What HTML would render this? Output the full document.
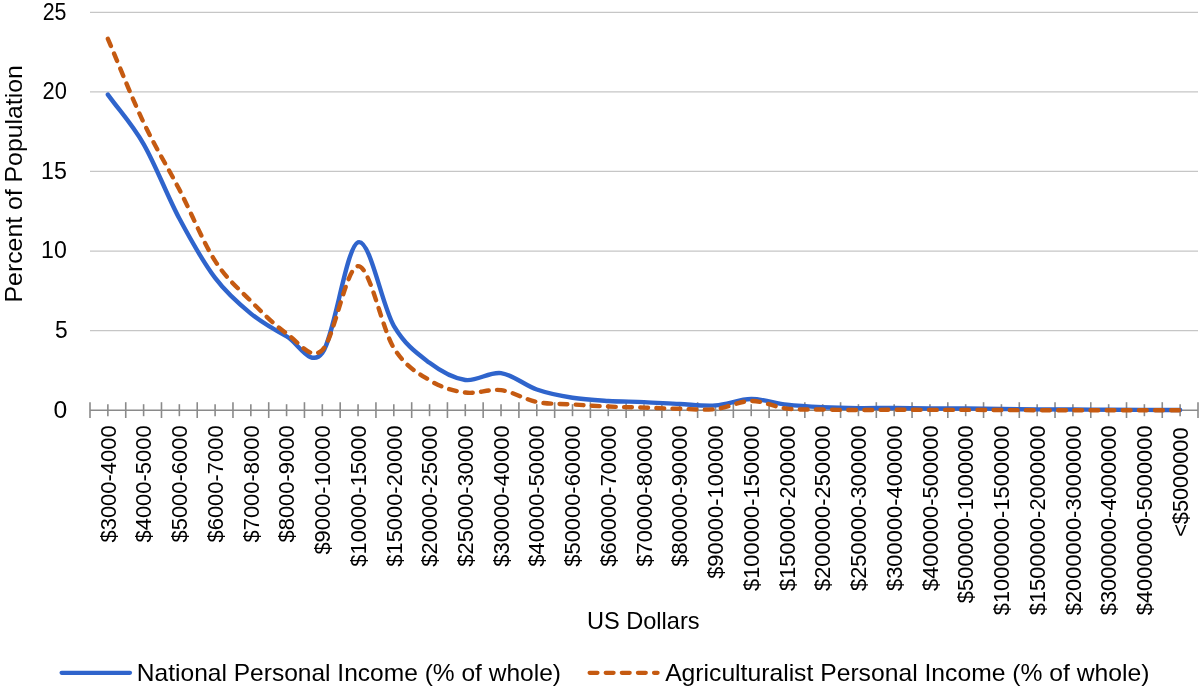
<!DOCTYPE html>
<html><head><meta charset="utf-8"><style>
html,body{margin:0;padding:0;background:#fff;width:1200px;height:689px;overflow:hidden;}
svg{display:block;font-family:"Liberation Sans",sans-serif;will-change:transform;}
</style></head><body>
<svg width="1200" height="689" viewBox="0 0 1200 689">
<rect width="1200" height="689" fill="#fff"/>
<line x1="90.0" y1="330.62" x2="1198.0" y2="330.62" stroke="#c6c6c6" stroke-width="1.3"/>
<line x1="90.0" y1="251.04" x2="1198.0" y2="251.04" stroke="#c6c6c6" stroke-width="1.3"/>
<line x1="90.0" y1="171.46" x2="1198.0" y2="171.46" stroke="#c6c6c6" stroke-width="1.3"/>
<line x1="90.0" y1="91.88" x2="1198.0" y2="91.88" stroke="#c6c6c6" stroke-width="1.3"/>
<line x1="90.0" y1="12.30" x2="1198.0" y2="12.30" stroke="#c6c6c6" stroke-width="1.3"/>
<text x="42.63" y="19.75" font-size="23.4" font-family="Liberation Sans, sans-serif" textLength="23.77" lengthAdjust="spacingAndGlyphs">25</text>
<text x="42.50" y="99.33" font-size="23.4" font-family="Liberation Sans, sans-serif" textLength="24.36" lengthAdjust="spacingAndGlyphs">20</text>
<text x="41.03" y="178.91" font-size="23.4" font-family="Liberation Sans, sans-serif" textLength="25.85" lengthAdjust="spacingAndGlyphs">15</text>
<text x="41.04" y="258.49" font-size="23.4" font-family="Liberation Sans, sans-serif" textLength="25.77" lengthAdjust="spacingAndGlyphs">10</text>
<text x="54.89" y="338.07" font-size="23.4" font-family="Liberation Sans, sans-serif" textLength="12.67" lengthAdjust="spacingAndGlyphs">5</text>
<text x="53.44" y="417.65" font-size="23.4" font-family="Liberation Sans, sans-serif" textLength="13.73" lengthAdjust="spacingAndGlyphs">0</text>
<line x1="90.0" y1="410.2" x2="1198.0" y2="410.2" stroke="#8a8a8a" stroke-width="1.6"/>
<line x1="90.00" y1="402.2" x2="90.00" y2="418" stroke="#8a8a8a" stroke-width="1.6"/>
<line x1="125.74" y1="402.2" x2="125.74" y2="418" stroke="#8a8a8a" stroke-width="1.6"/>
<line x1="161.48" y1="402.2" x2="161.48" y2="418" stroke="#8a8a8a" stroke-width="1.6"/>
<line x1="197.23" y1="402.2" x2="197.23" y2="418" stroke="#8a8a8a" stroke-width="1.6"/>
<line x1="232.97" y1="402.2" x2="232.97" y2="418" stroke="#8a8a8a" stroke-width="1.6"/>
<line x1="268.71" y1="402.2" x2="268.71" y2="418" stroke="#8a8a8a" stroke-width="1.6"/>
<line x1="304.45" y1="402.2" x2="304.45" y2="418" stroke="#8a8a8a" stroke-width="1.6"/>
<line x1="340.19" y1="402.2" x2="340.19" y2="418" stroke="#8a8a8a" stroke-width="1.6"/>
<line x1="375.94" y1="402.2" x2="375.94" y2="418" stroke="#8a8a8a" stroke-width="1.6"/>
<line x1="411.68" y1="402.2" x2="411.68" y2="418" stroke="#8a8a8a" stroke-width="1.6"/>
<line x1="447.42" y1="402.2" x2="447.42" y2="418" stroke="#8a8a8a" stroke-width="1.6"/>
<line x1="483.16" y1="402.2" x2="483.16" y2="418" stroke="#8a8a8a" stroke-width="1.6"/>
<line x1="518.90" y1="402.2" x2="518.90" y2="418" stroke="#8a8a8a" stroke-width="1.6"/>
<line x1="554.65" y1="402.2" x2="554.65" y2="418" stroke="#8a8a8a" stroke-width="1.6"/>
<line x1="590.39" y1="402.2" x2="590.39" y2="418" stroke="#8a8a8a" stroke-width="1.6"/>
<line x1="626.13" y1="402.2" x2="626.13" y2="418" stroke="#8a8a8a" stroke-width="1.6"/>
<line x1="661.87" y1="402.2" x2="661.87" y2="418" stroke="#8a8a8a" stroke-width="1.6"/>
<line x1="697.61" y1="402.2" x2="697.61" y2="418" stroke="#8a8a8a" stroke-width="1.6"/>
<line x1="733.35" y1="402.2" x2="733.35" y2="418" stroke="#8a8a8a" stroke-width="1.6"/>
<line x1="769.10" y1="402.2" x2="769.10" y2="418" stroke="#8a8a8a" stroke-width="1.6"/>
<line x1="804.84" y1="402.2" x2="804.84" y2="418" stroke="#8a8a8a" stroke-width="1.6"/>
<line x1="840.58" y1="402.2" x2="840.58" y2="418" stroke="#8a8a8a" stroke-width="1.6"/>
<line x1="876.32" y1="402.2" x2="876.32" y2="418" stroke="#8a8a8a" stroke-width="1.6"/>
<line x1="912.06" y1="402.2" x2="912.06" y2="418" stroke="#8a8a8a" stroke-width="1.6"/>
<line x1="947.81" y1="402.2" x2="947.81" y2="418" stroke="#8a8a8a" stroke-width="1.6"/>
<line x1="983.55" y1="402.2" x2="983.55" y2="418" stroke="#8a8a8a" stroke-width="1.6"/>
<line x1="1019.29" y1="402.2" x2="1019.29" y2="418" stroke="#8a8a8a" stroke-width="1.6"/>
<line x1="1055.03" y1="402.2" x2="1055.03" y2="418" stroke="#8a8a8a" stroke-width="1.6"/>
<line x1="1090.77" y1="402.2" x2="1090.77" y2="418" stroke="#8a8a8a" stroke-width="1.6"/>
<line x1="1126.52" y1="402.2" x2="1126.52" y2="418" stroke="#8a8a8a" stroke-width="1.6"/>
<line x1="1162.26" y1="402.2" x2="1162.26" y2="418" stroke="#8a8a8a" stroke-width="1.6"/>
<line x1="1198.00" y1="402.2" x2="1198.00" y2="418" stroke="#8a8a8a" stroke-width="1.6"/>
<line x1="107.87" y1="404.2" x2="107.87" y2="416.2" stroke="#8a8a8a" stroke-width="1.6"/>
<line x1="143.61" y1="404.2" x2="143.61" y2="416.2" stroke="#8a8a8a" stroke-width="1.6"/>
<line x1="179.35" y1="404.2" x2="179.35" y2="416.2" stroke="#8a8a8a" stroke-width="1.6"/>
<line x1="215.10" y1="404.2" x2="215.10" y2="416.2" stroke="#8a8a8a" stroke-width="1.6"/>
<line x1="250.84" y1="404.2" x2="250.84" y2="416.2" stroke="#8a8a8a" stroke-width="1.6"/>
<line x1="286.58" y1="404.2" x2="286.58" y2="416.2" stroke="#8a8a8a" stroke-width="1.6"/>
<line x1="322.32" y1="404.2" x2="322.32" y2="416.2" stroke="#8a8a8a" stroke-width="1.6"/>
<line x1="358.06" y1="404.2" x2="358.06" y2="416.2" stroke="#8a8a8a" stroke-width="1.6"/>
<line x1="393.81" y1="404.2" x2="393.81" y2="416.2" stroke="#8a8a8a" stroke-width="1.6"/>
<line x1="429.55" y1="404.2" x2="429.55" y2="416.2" stroke="#8a8a8a" stroke-width="1.6"/>
<line x1="465.29" y1="404.2" x2="465.29" y2="416.2" stroke="#8a8a8a" stroke-width="1.6"/>
<line x1="501.03" y1="404.2" x2="501.03" y2="416.2" stroke="#8a8a8a" stroke-width="1.6"/>
<line x1="536.77" y1="404.2" x2="536.77" y2="416.2" stroke="#8a8a8a" stroke-width="1.6"/>
<line x1="572.52" y1="404.2" x2="572.52" y2="416.2" stroke="#8a8a8a" stroke-width="1.6"/>
<line x1="608.26" y1="404.2" x2="608.26" y2="416.2" stroke="#8a8a8a" stroke-width="1.6"/>
<line x1="644.00" y1="404.2" x2="644.00" y2="416.2" stroke="#8a8a8a" stroke-width="1.6"/>
<line x1="679.74" y1="404.2" x2="679.74" y2="416.2" stroke="#8a8a8a" stroke-width="1.6"/>
<line x1="715.48" y1="404.2" x2="715.48" y2="416.2" stroke="#8a8a8a" stroke-width="1.6"/>
<line x1="751.23" y1="404.2" x2="751.23" y2="416.2" stroke="#8a8a8a" stroke-width="1.6"/>
<line x1="786.97" y1="404.2" x2="786.97" y2="416.2" stroke="#8a8a8a" stroke-width="1.6"/>
<line x1="822.71" y1="404.2" x2="822.71" y2="416.2" stroke="#8a8a8a" stroke-width="1.6"/>
<line x1="858.45" y1="404.2" x2="858.45" y2="416.2" stroke="#8a8a8a" stroke-width="1.6"/>
<line x1="894.19" y1="404.2" x2="894.19" y2="416.2" stroke="#8a8a8a" stroke-width="1.6"/>
<line x1="929.94" y1="404.2" x2="929.94" y2="416.2" stroke="#8a8a8a" stroke-width="1.6"/>
<line x1="965.68" y1="404.2" x2="965.68" y2="416.2" stroke="#8a8a8a" stroke-width="1.6"/>
<line x1="1001.42" y1="404.2" x2="1001.42" y2="416.2" stroke="#8a8a8a" stroke-width="1.6"/>
<line x1="1037.16" y1="404.2" x2="1037.16" y2="416.2" stroke="#8a8a8a" stroke-width="1.6"/>
<line x1="1072.90" y1="404.2" x2="1072.90" y2="416.2" stroke="#8a8a8a" stroke-width="1.6"/>
<line x1="1108.65" y1="404.2" x2="1108.65" y2="416.2" stroke="#8a8a8a" stroke-width="1.6"/>
<line x1="1144.39" y1="404.2" x2="1144.39" y2="416.2" stroke="#8a8a8a" stroke-width="1.6"/>
<line x1="1180.13" y1="404.2" x2="1180.13" y2="416.2" stroke="#8a8a8a" stroke-width="1.6"/>
<text transform="translate(115.58,542.25) rotate(-90)" x="-0.24" y="0" font-size="22.4" font-family="Liberation Sans, sans-serif" textLength="117.09" lengthAdjust="spacingAndGlyphs">&#36;3000-4000</text>
<text transform="translate(151.32,542.25) rotate(-90)" x="-0.24" y="0" font-size="22.4" font-family="Liberation Sans, sans-serif" textLength="117.09" lengthAdjust="spacingAndGlyphs">&#36;4000-5000</text>
<text transform="translate(187.06,542.25) rotate(-90)" x="-0.24" y="0" font-size="22.4" font-family="Liberation Sans, sans-serif" textLength="117.09" lengthAdjust="spacingAndGlyphs">&#36;5000-6000</text>
<text transform="translate(222.80,542.25) rotate(-90)" x="-0.24" y="0" font-size="22.4" font-family="Liberation Sans, sans-serif" textLength="117.09" lengthAdjust="spacingAndGlyphs">&#36;6000-7000</text>
<text transform="translate(258.54,542.25) rotate(-90)" x="-0.24" y="0" font-size="22.4" font-family="Liberation Sans, sans-serif" textLength="117.09" lengthAdjust="spacingAndGlyphs">&#36;7000-8000</text>
<text transform="translate(294.29,542.25) rotate(-90)" x="-0.24" y="0" font-size="22.4" font-family="Liberation Sans, sans-serif" textLength="117.09" lengthAdjust="spacingAndGlyphs">&#36;8000-9000</text>
<text transform="translate(330.03,554.38) rotate(-90)" x="-0.24" y="0" font-size="22.4" font-family="Liberation Sans, sans-serif" textLength="129.22" lengthAdjust="spacingAndGlyphs">&#36;9000-10000</text>
<text transform="translate(365.77,566.51) rotate(-90)" x="-0.24" y="0" font-size="22.4" font-family="Liberation Sans, sans-serif" textLength="141.35" lengthAdjust="spacingAndGlyphs">&#36;10000-15000</text>
<text transform="translate(401.51,566.51) rotate(-90)" x="-0.24" y="0" font-size="22.4" font-family="Liberation Sans, sans-serif" textLength="141.35" lengthAdjust="spacingAndGlyphs">&#36;15000-20000</text>
<text transform="translate(437.25,566.51) rotate(-90)" x="-0.24" y="0" font-size="22.4" font-family="Liberation Sans, sans-serif" textLength="141.35" lengthAdjust="spacingAndGlyphs">&#36;20000-25000</text>
<text transform="translate(473.00,566.51) rotate(-90)" x="-0.24" y="0" font-size="22.4" font-family="Liberation Sans, sans-serif" textLength="141.35" lengthAdjust="spacingAndGlyphs">&#36;25000-30000</text>
<text transform="translate(508.74,566.51) rotate(-90)" x="-0.24" y="0" font-size="22.4" font-family="Liberation Sans, sans-serif" textLength="141.35" lengthAdjust="spacingAndGlyphs">&#36;30000-40000</text>
<text transform="translate(544.48,566.51) rotate(-90)" x="-0.24" y="0" font-size="22.4" font-family="Liberation Sans, sans-serif" textLength="141.35" lengthAdjust="spacingAndGlyphs">&#36;40000-50000</text>
<text transform="translate(580.22,566.51) rotate(-90)" x="-0.24" y="0" font-size="22.4" font-family="Liberation Sans, sans-serif" textLength="141.35" lengthAdjust="spacingAndGlyphs">&#36;50000-60000</text>
<text transform="translate(615.96,566.51) rotate(-90)" x="-0.24" y="0" font-size="22.4" font-family="Liberation Sans, sans-serif" textLength="141.35" lengthAdjust="spacingAndGlyphs">&#36;60000-70000</text>
<text transform="translate(651.71,566.51) rotate(-90)" x="-0.24" y="0" font-size="22.4" font-family="Liberation Sans, sans-serif" textLength="141.35" lengthAdjust="spacingAndGlyphs">&#36;70000-80000</text>
<text transform="translate(687.45,566.51) rotate(-90)" x="-0.24" y="0" font-size="22.4" font-family="Liberation Sans, sans-serif" textLength="141.35" lengthAdjust="spacingAndGlyphs">&#36;80000-90000</text>
<text transform="translate(723.19,578.64) rotate(-90)" x="-0.24" y="0" font-size="22.4" font-family="Liberation Sans, sans-serif" textLength="153.48" lengthAdjust="spacingAndGlyphs">&#36;90000-100000</text>
<text transform="translate(758.93,590.77) rotate(-90)" x="-0.24" y="0" font-size="22.4" font-family="Liberation Sans, sans-serif" textLength="165.61" lengthAdjust="spacingAndGlyphs">&#36;100000-150000</text>
<text transform="translate(794.67,590.77) rotate(-90)" x="-0.24" y="0" font-size="22.4" font-family="Liberation Sans, sans-serif" textLength="165.61" lengthAdjust="spacingAndGlyphs">&#36;150000-200000</text>
<text transform="translate(830.42,590.77) rotate(-90)" x="-0.24" y="0" font-size="22.4" font-family="Liberation Sans, sans-serif" textLength="165.61" lengthAdjust="spacingAndGlyphs">&#36;200000-250000</text>
<text transform="translate(866.16,590.77) rotate(-90)" x="-0.24" y="0" font-size="22.4" font-family="Liberation Sans, sans-serif" textLength="165.61" lengthAdjust="spacingAndGlyphs">&#36;250000-300000</text>
<text transform="translate(901.90,590.77) rotate(-90)" x="-0.24" y="0" font-size="22.4" font-family="Liberation Sans, sans-serif" textLength="165.61" lengthAdjust="spacingAndGlyphs">&#36;300000-400000</text>
<text transform="translate(937.64,590.77) rotate(-90)" x="-0.24" y="0" font-size="22.4" font-family="Liberation Sans, sans-serif" textLength="165.61" lengthAdjust="spacingAndGlyphs">&#36;400000-500000</text>
<text transform="translate(973.38,602.90) rotate(-90)" x="-0.24" y="0" font-size="22.4" font-family="Liberation Sans, sans-serif" textLength="177.74" lengthAdjust="spacingAndGlyphs">&#36;500000-1000000</text>
<text transform="translate(1009.12,615.03) rotate(-90)" x="-0.24" y="0" font-size="22.4" font-family="Liberation Sans, sans-serif" textLength="189.87" lengthAdjust="spacingAndGlyphs">&#36;1000000-1500000</text>
<text transform="translate(1044.87,615.03) rotate(-90)" x="-0.24" y="0" font-size="22.4" font-family="Liberation Sans, sans-serif" textLength="189.87" lengthAdjust="spacingAndGlyphs">&#36;1500000-2000000</text>
<text transform="translate(1080.61,615.03) rotate(-90)" x="-0.24" y="0" font-size="22.4" font-family="Liberation Sans, sans-serif" textLength="189.87" lengthAdjust="spacingAndGlyphs">&#36;2000000-3000000</text>
<text transform="translate(1116.35,615.03) rotate(-90)" x="-0.24" y="0" font-size="22.4" font-family="Liberation Sans, sans-serif" textLength="189.87" lengthAdjust="spacingAndGlyphs">&#36;3000000-4000000</text>
<text transform="translate(1152.09,615.03) rotate(-90)" x="-0.24" y="0" font-size="22.4" font-family="Liberation Sans, sans-serif" textLength="189.87" lengthAdjust="spacingAndGlyphs">&#36;4000000-5000000</text>
<text transform="translate(1187.83,535.80) rotate(-90)" x="-1.07" y="0" font-size="22.4" font-family="Liberation Sans, sans-serif" textLength="109.42" lengthAdjust="spacingAndGlyphs">&lt;&#36;5000000</text>
<path d="M107.87,94.59 C119.78,111.09 131.70,123.42 143.61,144.08 C155.53,164.75 167.44,196.26 179.35,218.57 C191.27,240.88 203.18,262.10 215.10,277.94 C227.01,293.77 238.92,303.85 250.84,313.59 C262.75,323.33 274.67,329.80 286.58,336.35 C298.49,342.90 310.41,368.58 322.32,352.90 C334.24,337.23 346.15,246.80 358.06,242.29 C369.98,237.78 381.89,305.76 393.81,325.85 C405.72,345.93 417.63,353.75 429.55,362.77 C441.46,371.79 453.38,378.24 465.29,379.96 C477.20,381.68 489.12,371.52 501.03,373.12 C512.95,374.71 524.86,385.40 536.77,389.51 C548.69,393.62 560.60,395.88 572.52,397.79 C584.43,399.70 596.34,400.25 608.26,400.97 C620.17,401.68 632.09,401.58 644.00,402.08 C655.91,402.59 667.83,403.44 679.74,403.99 C691.66,404.55 703.57,406.25 715.48,405.43 C727.40,404.60 739.31,399.19 751.23,399.06 C763.14,398.93 775.05,403.28 786.97,404.63 C798.88,405.98 810.80,406.59 822.71,407.18 C834.62,407.76 846.54,408.00 858.45,408.13 C870.37,408.26 882.28,407.92 894.19,407.97 C906.11,408.02 918.02,408.37 929.94,408.45 C941.85,408.53 953.76,408.37 965.68,408.45 C977.59,408.53 989.51,408.77 1001.42,408.93 C1013.33,409.09 1025.25,409.30 1037.16,409.40 C1049.08,409.51 1060.99,409.51 1072.90,409.56 C1084.82,409.62 1096.73,409.67 1108.65,409.72 C1120.56,409.78 1132.47,409.83 1144.39,409.88 C1156.30,409.93 1168.22,409.99 1180.13,410.04" fill="none" stroke="#2f64cc" stroke-width="4.4" stroke-linecap="round" stroke-linejoin="round"/>
<path d="M107.87,38.88 C119.78,66.79 131.70,97.48 143.61,122.60 C155.53,147.72 167.44,166.55 179.35,189.60 C191.27,212.66 203.18,242.34 215.10,260.91 C227.01,279.48 238.92,288.92 250.84,301.02 C262.75,313.11 274.67,325.31 286.58,333.48 C298.49,341.66 310.41,361.26 322.32,350.04 C334.24,338.82 346.15,266.51 358.06,266.16 C369.98,265.82 381.89,328.95 393.81,347.97 C405.72,366.99 417.63,372.85 429.55,380.28 C441.46,387.71 453.38,390.89 465.29,392.53 C477.20,394.18 489.12,388.58 501.03,390.15 C512.95,391.71 524.86,399.54 536.77,401.92 C548.69,404.31 560.60,403.70 572.52,404.47 C584.43,405.24 596.34,406.01 608.26,406.54 C620.17,407.07 632.09,407.28 644.00,407.65 C655.91,408.02 667.83,408.53 679.74,408.77 C691.66,409.01 703.57,410.39 715.48,409.09 C727.40,407.79 739.31,401.05 751.23,400.97 C763.14,400.89 775.05,407.18 786.97,408.61 C798.88,410.04 810.80,409.32 822.71,409.56 C834.62,409.80 846.54,410.01 858.45,410.04 C870.37,410.07 882.28,409.75 894.19,409.72 C906.11,409.70 918.02,409.86 929.94,409.88 C941.85,409.91 953.76,409.86 965.68,409.88 C977.59,409.91 989.51,409.99 1001.42,410.04 C1013.33,410.09 1025.25,410.17 1037.16,410.20 C1049.08,410.23 1060.99,410.20 1072.90,410.20 C1084.82,410.20 1096.73,410.20 1108.65,410.20 C1120.56,410.20 1132.47,410.20 1144.39,410.20 C1156.30,410.20 1168.22,410.20 1180.13,410.20" fill="none" stroke="#c55a11" stroke-width="4.4" stroke-linecap="round" stroke-linejoin="round" stroke-dasharray="7.8 8.35"/>
<text transform="translate(21.90,300.40) rotate(-90)" x="-2.04" y="0" font-size="24.0" font-family="Liberation Sans, sans-serif" textLength="237.25" lengthAdjust="spacingAndGlyphs">Percent of Population</text>
<text x="586.93" y="629.40" font-size="24.0" font-family="Liberation Sans, sans-serif" textLength="112.67" lengthAdjust="spacingAndGlyphs">US Dollars</text>
<line x1="61.6" y1="672.8" x2="130" y2="672.8" stroke="#2f64cc" stroke-width="4.2" stroke-linecap="round"/>
<text x="136.89" y="680.90" font-size="24.0" font-family="Liberation Sans, sans-serif" textLength="424.13" lengthAdjust="spacingAndGlyphs">National Personal Income (% of whole)</text>
<line x1="589.6" y1="672.8" x2="657.6" y2="672.8" stroke="#c55a11" stroke-width="4.2" stroke-linecap="round" stroke-dasharray="7.9 8.2"/>
<text x="665.15" y="680.90" font-size="24.0" font-family="Liberation Sans, sans-serif" textLength="484.38" lengthAdjust="spacingAndGlyphs">Agriculturalist Personal Income (% of whole)</text>
</svg>
</body></html>
